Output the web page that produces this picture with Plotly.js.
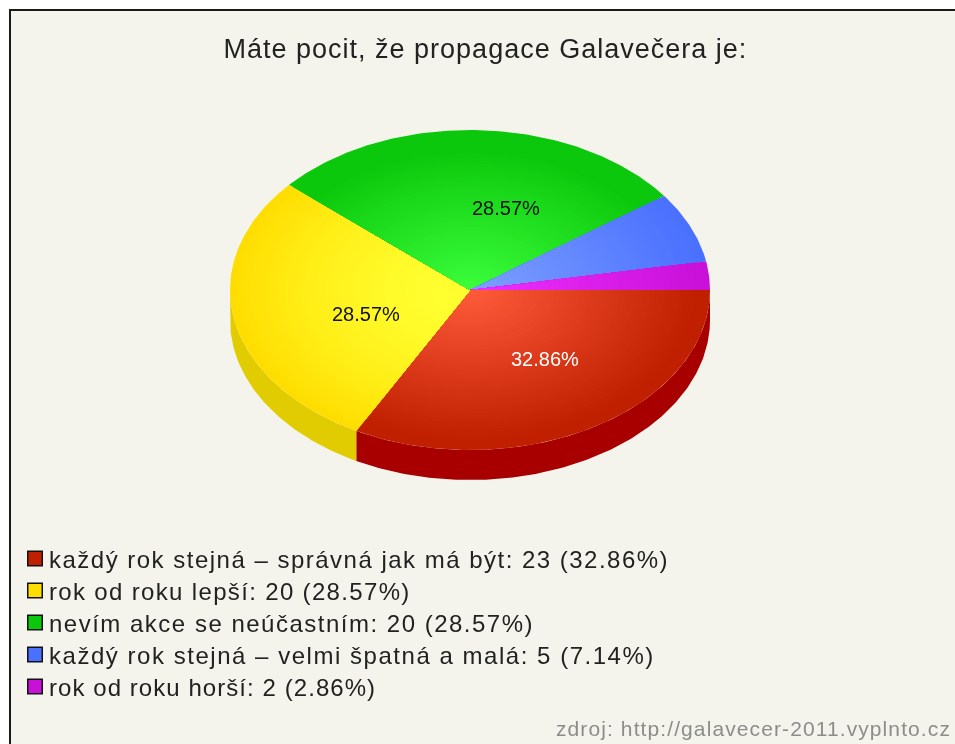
<!DOCTYPE html>
<html><head><meta charset="utf-8">
<script src="https://cdn.plot.ly/plotly-3.0.1.min.js"></script>
<style>html,body{margin:0;padding:0;background:#fff;overflow:hidden}#chart{width:955px;height:744px;filter:blur(.5px)}
.annotation[data-index="0"] text{letter-spacing:1px}
</style>
</head><body><div id="chart"></div>
<script>
const categories = ['každý rok stejná – správná jak má být','rok od roku lepší','nevím akce se neúčastním','každý rok stejná – velmi špatná a malá','rok od roku horší'];
const counts = [23,20,20,5,2];
const percents = ['32.86%','28.57%','28.57%','7.14%','2.86%'];
const rimColors = [[192,32,0],[255,221,0],[12,200,12],[74,112,255],[200,16,216]];
const hubColors = [[255,92,60],[255,255,48],[60,255,60],[126,160,255],[240,48,255]];
const sideColors = ['#a80000','#e0cc00',null,null,null];
const shadePower = [1,1.8,1,1,1];
const shadeEnd = [0.95,1,0.88,1,1];
const rowSpacing = [1.49,1.34,1.5,1.53,1.06];
const titleText = 'Máte pocit, že propagace Galavečera je:';
const sourceText = 'zdroj: http://galavecer-2011.vyplnto.cz';

const cx=470, cy=290, rx=240, ry=160, depth=30, rings=48;
const labelAt = [[545,359],[366,314],[506,208]];
const total = counts.reduce((a,b)=>a+b,0);
let acc=0;
const arcs = counts.map(v=>{const a=acc/total*2*Math.PI; acc+=v; return [a,acc/total*2*Math.PI];});
const arcPts=(a,b,k,dy)=>{const n=Math.max(2,Math.ceil((b-a)*80)),xs=[],ys=[];
  for(let i=0;i<=n;i++){const t=a+(b-a)*i/n;xs.push(cx+k*rx*Math.cos(t));ys.push(cy+dy+k*ry*Math.sin(t));}
  return [xs,ys];};
const data=[];
arcs.forEach(([a,b],i)=>{ if(!sideColors[i])return;
  const e=Math.min(b,Math.PI); const [x1,y1]=arcPts(a,e,1,0), [x2,y2]=arcPts(a,e,1,depth);
  data.push({type:'scatter',mode:'lines',x:x1.concat(x2.reverse()),y:y1.concat(y2.reverse()),fill:'toself',fillcolor:sideColors[i],line:{width:0},hoverinfo:'skip',showlegend:false});
});
arcs.forEach(([a,b],i)=>{
  for(let r=rings;r>=1;r--){
    const k=r/rings,f=Math.pow(Math.min(1,k/shadeEnd[i]),shadePower[i]);
    const c=rimColors[i].map((v,j)=>Math.round(hubColors[i][j]+(v-hubColors[i][j])*f));
    const [xs,ys]=arcPts(a,b,k,0);
    data.push({type:'scatter',mode:'lines',name:categories[i],x:[cx].concat(xs,[cx]),y:[cy].concat(ys,[cy]),fill:'toself',fillcolor:`rgb(${c})`,line:{width:0},hoverinfo:'skip',showlegend:false});
  }
});
const ff='Liberation Sans, Arial, sans-serif';
const swX=35,swY0=558.5,rowH=32,txtX=49;
data.push({type:'scatter',mode:'markers',x:categories.map(()=>swX),y:categories.map((_,i)=>swY0+rowH*i),
  marker:{symbol:'square',size:14.5,color:rimColors.map(c=>`rgb(${c})`),line:{color:'#111',width:1.5}},hoverinfo:'skip',showlegend:false});
data.push({type:'scatter',mode:'text',x:categories.map(()=>txtX),y:categories.map((_,i)=>swY0+3+rowH*i),
  text:categories.map((c,i)=>`${c}: ${counts[i]} (${percents[i]})`),textposition:'middle right',
  textfont:{family:ff,size:24,color:'#222'},hoverinfo:'skip',showlegend:false});
data.push({type:'scatter',mode:'text',x:[951],y:[731],text:[sourceText],textposition:'middle left',
  textfont:{family:ff,size:21,color:'#8c8c8c'},hoverinfo:'skip',showlegend:false});
const annotations=[];
annotations.push({text:titleText,x:485,y:49,xref:'x',yref:'y',showarrow:false,xanchor:'center',yanchor:'middle',font:{family:ff,size:27,color:'#222'}});
labelAt.forEach((p,i)=>annotations.push({text:percents[i],x:p[0],y:p[1],xref:'x',yref:'y',showarrow:false,xanchor:'center',yanchor:'middle',font:{family:ff,size:20,color:i==0?'#fff':'#111'}}));
const layout={width:955,height:744,margin:{l:0,r:0,t:0,b:0},paper_bgcolor:'#fff',plot_bgcolor:'#fff',showlegend:false,
  xaxis:{range:[0,955],visible:false,fixedrange:true},yaxis:{range:[744,0],visible:false,fixedrange:true},
  shapes:[{type:'rect',layer:'below',xref:'x',yref:'y',x0:10,y0:10,x1:1000,y1:800,fillcolor:'#f4f4ec',line:{color:'#1a1a1a',width:2}}],
  annotations};
Plotly.newPlot('chart',data,layout,{displayModeBar:false,staticPlot:true}).then(()=>{
  let row=0;
  document.querySelectorAll('.textpoint text').forEach(t=>{t.style.letterSpacing=t.textContent.startsWith('zdroj')?'1.1px':rowSpacing[row++]+'px';});
});
</script></body></html>
